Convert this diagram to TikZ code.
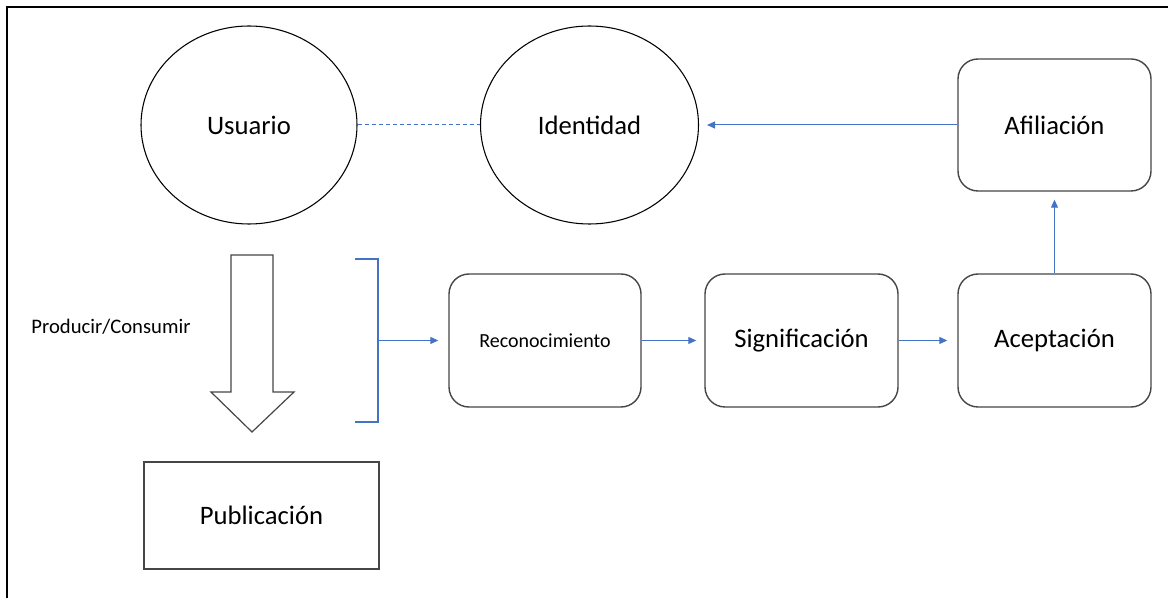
\documentclass[tikz,border=0pt]{standalone}
\usepackage{fontspec}
\setmainfont{Carlito}
\usetikzlibrary{shapes.geometric,arrows.meta}
\definecolor{flowblue}{RGB}{68,114,196}
\definecolor{edgegray}{RGB}{70,70,70}
\begin{document}
\begin{tikzpicture}[x=0.75pt,y=-0.75pt,
  bigtext/.style={font=\fontsize{20pt}{24pt}\selectfont},
  oval/.style={ellipse,draw=black,line width=0.8pt,inner sep=0pt,bigtext},
  roundbox/.style={rectangle,rounded corners=15pt,draw=edgegray,line width=1.05pt,
    minimum width=144.75pt,minimum height=99.75pt,inner sep=0pt,bigtext},
  flow/.style={draw=flowblue,line width=0.75pt,-{Triangle[length=6pt,width=5.25pt]}},
  link/.style={draw=flowblue,line width=0.75pt,dash pattern=on 3pt off 2.25pt},
  brace/.style={draw=flowblue,line width=0.9pt},
  frame/.style={draw=black,line width=1.5pt}]
\useasboundingbox (0,0) rectangle (1168,598);
\fill[white] (0,0) rectangle (1168,598);

% outer frame (top and left edges)
\draw[frame] (1168,7) -- (7,7) -- (7,598);

% identity row
\node[oval,minimum width=162pt,minimum height=148.5pt] (user) at (249,125) {Usuario};
\node[oval,minimum width=163.5pt,minimum height=148.5pt] (ident) at (589.5,125) {Identidad};
\node[roundbox,minimum height=99pt] (afil) at (1054.5,125) {Afiliación};

% process row
\node[roundbox,minimum width=144pt,font=\fontsize{15pt}{18pt}\selectfont] (recon) at (545,340.5) {Reconocimiento};
\node[roundbox] (signif) at (801.5,340.5) {Significación};
\node[roundbox] (acept) at (1054.5,340.5) {Aceptación};

% output
\node[rectangle,draw=edgegray,line width=1.05pt,minimum width=176.25pt,minimum height=80.25pt,
  inner sep=0pt,bigtext] (publ) at (261.5,515.5) {Publicación};

% produce/consume label and block arrow
\node[font=\fontsize{15.5pt}{18pt}\selectfont,inner sep=0pt] (prodlabel) at (111,327) {Producir/Consumir};
\draw[draw=edgegray,line width=0.9pt,fill=white,line join=miter]
  (231,255) -- (273,255) -- (273,392) -- (294,392) -- (252,432)
  -- (211,392) -- (231,392) -- cycle;

% bracket gathering the activity
\coordinate (brtop) at (355,259);
\coordinate (brbot) at (355,422);
\coordinate (brmid) at (378,340.5);
\draw[brace] (brtop) -- (378,259) -- (378,422) -- (brbot);

% connectors
\draw[link] (user.east) -- (ident.west);
\draw[flow,shorten >=7.5pt] (brmid) -- (recon.west);
\draw[flow,shorten >=6pt] (recon.east) -- (signif.west);
\draw[flow,shorten >=7.5pt] (signif.east) -- (acept.west);
\draw[flow,shorten >=6pt] (acept.north) -- (afil.south);
\draw[flow,shorten >=6pt] (afil.west) -- (ident.east);
\end{tikzpicture}
\end{document}
